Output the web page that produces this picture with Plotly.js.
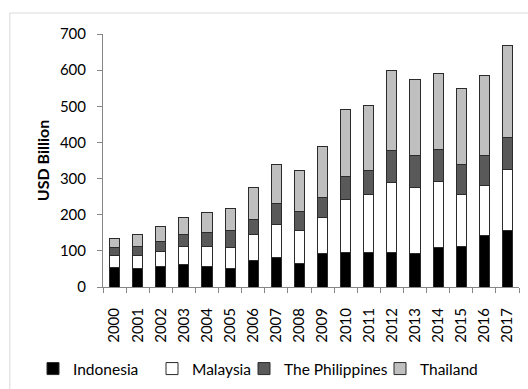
<!DOCTYPE html>
<html>
<head>
<meta charset="utf-8">
<script src="https://cdn.plot.ly/plotly-3.0.1.min.js"></script>
<style>
  html, body { margin: 0; padding: 0; background: #fff; }
  #chart { width: 528px; height: 389px; }
</style>
</head>
<body>
<div id="chart"></div>
<script>
// Annual values, USD billion
const years = ['2000','2001','2002','2003','2004','2005','2006','2007','2008',
               '2009','2010','2011','2012','2013','2014','2015','2016','2017'];
const indonesia   = [53, 50, 56, 63, 56, 51, 73, 81, 66, 93, 96, 96, 96, 93, 109, 112, 142, 157];
const malaysia    = [35, 38, 43, 49, 56, 58, 71, 93, 90, 100, 147, 159, 194, 183, 184, 143, 140, 167];
const philippines = [22, 25, 28, 32, 40, 46, 43, 56, 53, 55, 64, 67, 87, 87, 87, 83, 83, 90];
const thailand    = [25, 31, 41, 49, 54, 63, 89, 109, 113, 140, 183, 180, 222, 212, 211, 210, 220, 253];

const outline = { color: '#2b2b2b', width: 1 };
const family = 'Lato, "Open Sans", sans-serif';

function series(name, values, fill, legendId) {
  return {
    type: 'bar',
    name: name,
    x: years,
    y: values,
    legend: legendId,
    marker: { color: fill, line: outline }
  };
}

const data = [
  series('Indonesia', indonesia, '#000000', 'legend'),
  series('Malaysia', malaysia, '#ffffff', 'legend2'),
  series('The Philippines', philippines, '#595959', 'legend3'),
  series('Thailand', thailand, '#bfbfbf', 'legend4')
];

// one single-entry legend per series, laid out in a row under the chart
function legendAt(xPx) {
  return {
    orientation: 'h',
    x: xPx / 528,
    xanchor: 'left',
    xref: 'container',
    y: 1 - 369 / 389,
    yref: 'container',
    yanchor: 'middle',
    font: { family: family, size: 15.5, color: '#000' },
    bgcolor: 'rgba(0,0,0,0)',
    borderwidth: 0
  };
}

const layout = {
  width: 528,
  height: 389,
  barmode: 'stack',
  bargap: 0.56,
  showlegend: true,
  font: { family: family, size: 15, color: '#000' },
  paper_bgcolor: '#fff',
  plot_bgcolor: '#fff',
  margin: { l: 103, r: 9, t: 34, b: 102 },
  xaxis: {
    type: 'category',
    tickangle: -90,
    ticks: 'outside',
    tickson: 'boundaries',
    ticklen: 5,
    tickcolor: '#868686',
    showline: true,
    linecolor: '#868686',
    linewidth: 1,
    showgrid: false,
    zeroline: false,
    ticklabelstandoff: 14,
    tickfont: { family: family, size: 15, color: '#000' }
  },
  yaxis: {
    range: [0, 700],
    dtick: 100,
    ticks: 'outside',
    ticklen: 5,
    tickcolor: '#868686',
    showline: true,
    linecolor: '#868686',
    linewidth: 1,
    showgrid: false,
    zeroline: false,
    ticklabelstandoff: 8,
    tickfont: { family: family, size: 15, color: '#000' },
    title: {
      text: '<b>USD Billion</b>',
      font: { family: family, size: 16, color: '#000' },
      standoff: 6
    }
  },
  legend: legendAt(33),
  legend2: legendAt(152),
  legend3: legendAt(244),
  legend4: legendAt(380),
  shapes: [
    // outer frame: left and top edges
    { type: 'line', xref: 'paper', yref: 'paper',
      x0: -0.224, x1: -0.224, y0: 1.083, y1: -0.5,
      line: { color: '#d9d9d9', width: 1 } },
    { type: 'line', xref: 'paper', yref: 'paper',
      x0: -0.224, x1: 1.03, y0: 1.083, y1: 1.083,
      line: { color: '#d9d9d9', width: 1 } }
  ]
};

Plotly.newPlot('chart', data, layout, { displayModeBar: false, staticPlot: true });
</script>
</body>
</html>
